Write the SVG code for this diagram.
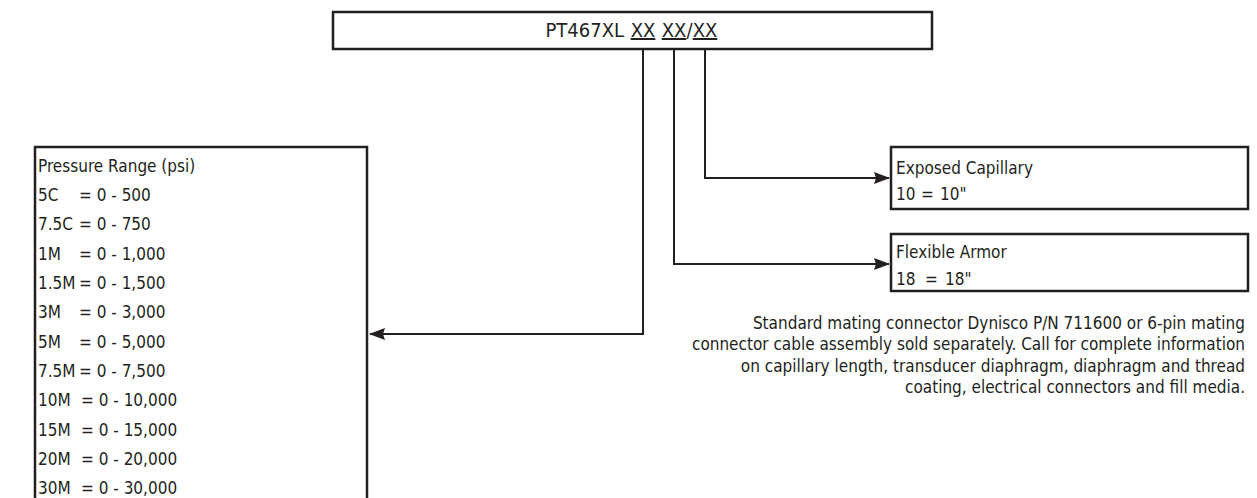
<svg xmlns="http://www.w3.org/2000/svg" width="1257" height="498" viewBox="0 0 1257 498">
<style>
.box{fill:#fff;stroke:#231f20;stroke-width:2.5}
.t{font-family:"Liberation Sans Narrow","DejaVu Sans Condensed","Liberation Sans",sans-serif;font-size:17px;fill:#231f20}
.big{font-size:20px}
.m{text-anchor:middle}
.c{fill:none;stroke:#231f20;stroke-width:2}
.u{text-decoration:underline}
</style>
<defs>
<marker id="ah" markerWidth="16" markerHeight="12" refX="15" refY="6" orient="auto" markerUnits="userSpaceOnUse">
<path d="M0,0 L16,6 L0,12 L2,6 Z" fill="#231f20"/>
</marker>
</defs>
<g id="model">
<rect class="box" x="333" y="12" width="599" height="37"/>
<text class="t big" x="624" y="37" text-anchor="end">PT467XL</text>
<text class="t big m u" x="643" y="37">XX</text>
<text class="t big m u" x="674" y="37">XX</text>
<text class="t big m" x="689.5" y="37">/</text>
<text class="t big m u" x="705" y="37">XX</text>
</g>
<g id="connectors">
<path class="c" d="M705,49 V178 H889" marker-end="url(#ah)"/>
<path class="c" d="M674,49 V264 H889" marker-end="url(#ah)"/>
<path class="c" d="M643,49 V334 H370" marker-end="url(#ah)"/>
</g>
<g id="pressure">
<rect class="box" x="35" y="147" width="332" height="360"/>
<text class="t" x="38" y="172">Pressure Range (psi)</text>
<text class="t" y="201"><tspan x="38">5C</tspan><tspan x="79">= 0 - 500</tspan></text>
<text class="t" y="230"><tspan x="38">7.5C</tspan><tspan x="79">= 0 - 750</tspan></text>
<text class="t" y="260"><tspan x="38">1M</tspan><tspan x="79">= 0 - 1,000</tspan></text>
<text class="t" y="289"><tspan x="38">1.5M</tspan><tspan x="79">= 0 - 1,500</tspan></text>
<text class="t" y="318"><tspan x="38">3M</tspan><tspan x="79">= 0 - 3,000</tspan></text>
<text class="t" y="348"><tspan x="38">5M</tspan><tspan x="79">= 0 - 5,000</tspan></text>
<text class="t" y="377"><tspan x="38">7.5M</tspan><tspan x="79">= 0 - 7,500</tspan></text>
<text class="t" y="406"><tspan x="38">10M</tspan><tspan x="81">= 0 - 10,000</tspan></text>
<text class="t" y="436"><tspan x="38">15M</tspan><tspan x="81">= 0 - 15,000</tspan></text>
<text class="t" y="465"><tspan x="38">20M</tspan><tspan x="81">= 0 - 20,000</tspan></text>
<text class="t" y="494"><tspan x="38">30M</tspan><tspan x="81">= 0 - 30,000</tspan></text>
</g>
<g id="capillary">
<rect class="box" x="891" y="147" width="357" height="62"/>
<text class="t" x="896" y="174">Exposed Capillary</text>
<text class="t" y="200"><tspan x="896">10</tspan><tspan x="921">=</tspan><tspan x="940">10"</tspan></text>
</g>
<g id="armor">
<rect class="box" x="891" y="234" width="357" height="57"/>
<text class="t" x="896" y="258">Flexible Armor</text>
<text class="t" y="285"><tspan x="896">18</tspan><tspan x="925">=</tspan><tspan x="945">18"</tspan></text>
</g>
<g id="note">
<text class="t" text-anchor="end"><tspan x="1245" y="329">Standard mating connector Dynisco P/N 711600 or 6-pin mating</tspan><tspan x="1245" y="350">connector cable assembly sold separately. Call for complete information</tspan><tspan x="1245" y="372">on capillary length, transducer diaphragm, diaphragm and thread</tspan><tspan x="1245" y="393">coating, electrical connectors and fill media.</tspan></text>
</g>
</svg>
